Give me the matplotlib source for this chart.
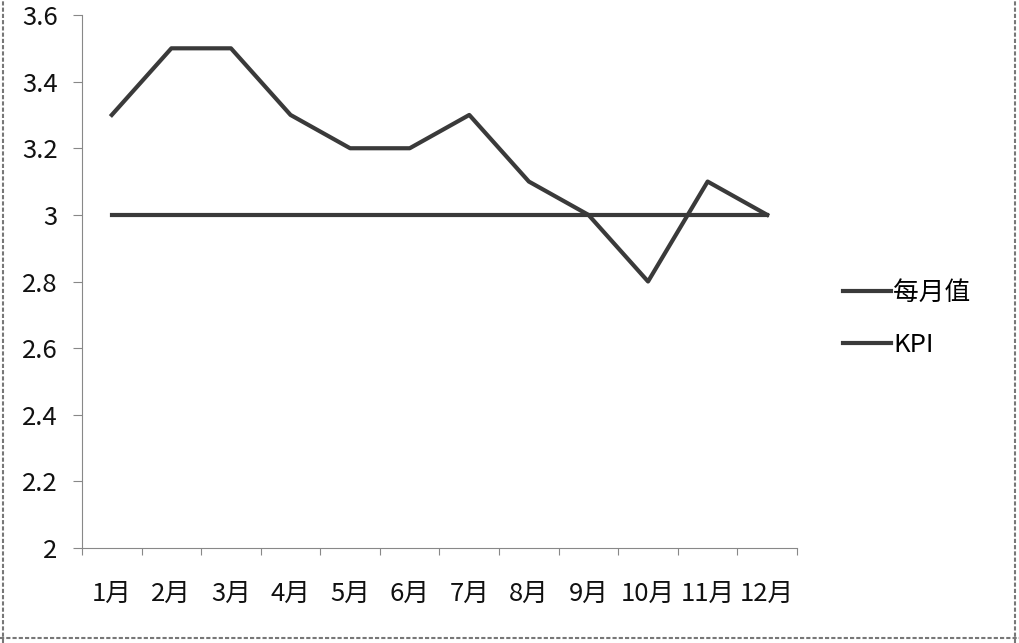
import numpy as np
import matplotlib.pyplot as plt
from matplotlib.lines import Line2D

plt.rcParams['font.family'] = ['Noto Sans CJK SC', 'DejaVu Sans']

# data
months = ['1月', '2月', '3月', '4月', '5月', '6月', '7月', '8月', '9月', '10月', '11月', '12月']
monthly = [3.3, 3.5, 3.5, 3.3, 3.2, 3.2, 3.3, 3.1, 3.0, 2.8, 3.1, 3.0]
kpi = [3.0, 3.0, 3.0, 3.0, 3.0, 3.0, 3.0, 3.0, 3.0, 3.0, 3.0, 3.0]
y_ticks = [2, 2.2, 2.4, 2.6, 2.8, 3, 3.2, 3.4, 3.6]
y_labels = ['2', '2.2', '2.4', '2.6', '2.8', '3', '3.2', '3.4', '3.6']

W, H = 1020, 643
fig = plt.figure(figsize=(W / 100, H / 100), dpi=100)
ax = fig.add_axes([82 / W, 1 - 548 / H, (797 - 82) / W, (548 - 15) / H])

x = np.arange(len(months))
line_col = '#3a3a3a'
ax.plot(x, monthly, color=line_col, lw=3.0, label='每月值')
ax.plot(x, kpi, color=line_col, lw=3.0, label='KPI')

ax.set_xlim(-0.5, len(months) - 0.5)
ax.set_ylim(2, 3.6)

# category boundaries as tick marks, labels at centres
ax.set_xticks(np.arange(len(months) + 1) - 0.5)
ax.set_xticklabels([])
ax.set_xticks(x, minor=True)
ax.set_xticklabels(months, minor=True, fontsize=18.5, color='#111111')
ax.tick_params(axis='x', which='major', length=5, width=0.8, color='#888888', direction='out')
ax.tick_params(axis='x', which='minor', length=0, pad=24)

ax.set_yticks(y_ticks)
ax.set_yticklabels(y_labels, fontsize=18.5, color='#111111')
ax.tick_params(axis='y', length=6.5, width=0.8, color='#888888', direction='out', pad=11)

for s in ['top', 'right']:
    ax.spines[s].set_visible(False)
for s in ['left', 'bottom']:
    ax.spines[s].set_color('#888888')
    ax.spines[s].set_linewidth(0.8)

# legend
handles = [Line2D([], [], color=line_col, lw=3.0), Line2D([], [], color=line_col, lw=3.0)]
fig.legend(handles, ['每月值', 'KPI'], loc='center left',
           bbox_to_anchor=(843 / W, 1 - 319 / H), frameon=False, fontsize=18.5,
           borderaxespad=0, borderpad=0,
           handlelength=1.85, handletextpad=0.1, labelspacing=1.05)

# outer frame of the scanned chart
frame_col = '#777777'
fig.add_artist(Line2D([3 / W, 3 / W], [0, 1], color=frame_col, lw=1.5, ls=(0, (2, 1))))
fig.add_artist(Line2D([1015 / W, 1015 / W], [0, 1], color=frame_col, lw=1.5, ls=(0, (2, 1))))
fig.add_artist(Line2D([0, 1], [1 - 638 / H, 1 - 638 / H], color=frame_col, lw=1.5, ls=(0, (2, 1))))

fig.savefig('out.png', dpi=100)
